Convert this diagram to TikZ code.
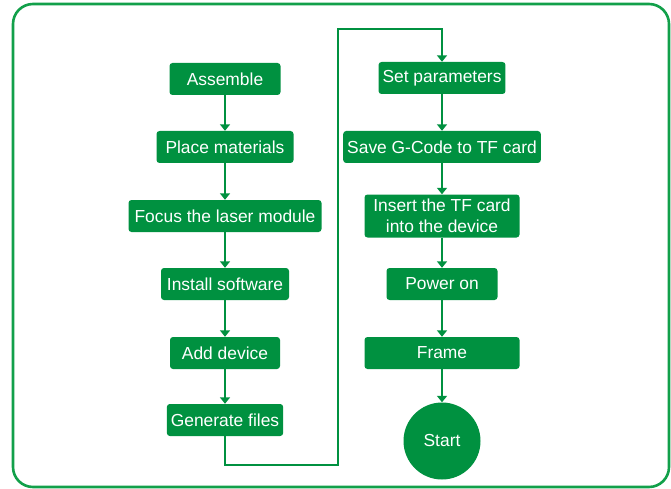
\documentclass[tikz,border=0pt]{standalone}
\usepackage{fontspec}
\setmainfont{Liberation Sans}
\usetikzlibrary{arrows.meta}
\definecolor{stepgreen}{HTML}{009140}
\definecolor{framegreen}{HTML}{12A04A}

\tikzset{
  stepbox/.style={fill=stepgreen, text=white, rounded corners=3pt, minimum height=32pt,
    inner xsep=4pt, inner ysep=2pt, font=\fontsize{17.4}{21}\selectfont, align=center},
  flow/.style={stepgreen, line width=2pt, -{Triangle[length=6.5pt, width=10pt]}},
}

\begin{document}
\begin{tikzpicture}[x=1pt, y=1pt]
\useasboundingbox (0,0) rectangle (671,-489);

% Outer frame
\draw[framegreen, line width=2.6pt, rounded corners=20pt] (13,-4) rectangle (669,-487);

% ---------- Left column ----------
\node[stepbox, minimum width=111pt] (assemble) at (225,-79) {Assemble};
\node[stepbox, minimum width=137pt] (place)    at (225,-147) {Place materials};
\node[stepbox, minimum width=193pt] (focus)    at (225,-216) {Focus the laser module};
\node[stepbox, minimum width=128pt] (install)  at (225,-284) {Install software};
\node[stepbox, minimum width=110pt] (adddev)   at (225,-353) {Add device};
\node[stepbox, minimum width=111pt] (genfiles) at (225,-420) {Generate files};

% ---------- Right column ----------
\node[stepbox, minimum width=125pt] (setparam) at (442,-78) {Set parameters};
\node[stepbox, minimum width=195pt] (savegc)   at (442,-147) {Save G-Code to TF card};
\node[stepbox, minimum width=155pt, minimum height=43pt] (insert) at (442,-216) {Insert the TF card\\into the device};
\node[stepbox, minimum width=111pt] (poweron)  at (442,-284) {Power on};
\node[stepbox, minimum width=155pt] (frame)    at (442,-353) {Frame};
\node[circle, fill=stepgreen, text=white, minimum size=77pt, inner sep=0pt,
  font=\fontsize{17.4}{21}\selectfont] (start) at (442,-441) {Start};

% Arrows
\draw[flow] (assemble) -- (place);
\draw[flow] (place) -- (focus);
\draw[flow] (focus) -- (install);
\draw[flow] (install) -- (adddev);
\draw[flow] (adddev) -- (genfiles);

\coordinate (turnlow)  at (338,-465);
\coordinate (turnhigh) at (338,-29);
\draw[flow] (genfiles.south) |- (turnlow) -- (turnhigh) -| (setparam.north);

\draw[flow] (setparam) -- (savegc);
\draw[flow] (savegc) -- (insert);
\draw[flow] (insert) -- (poweron);
\draw[flow] (poweron) -- (frame);
\draw[flow] (frame) -- (start);

\end{tikzpicture}
\end{document}
